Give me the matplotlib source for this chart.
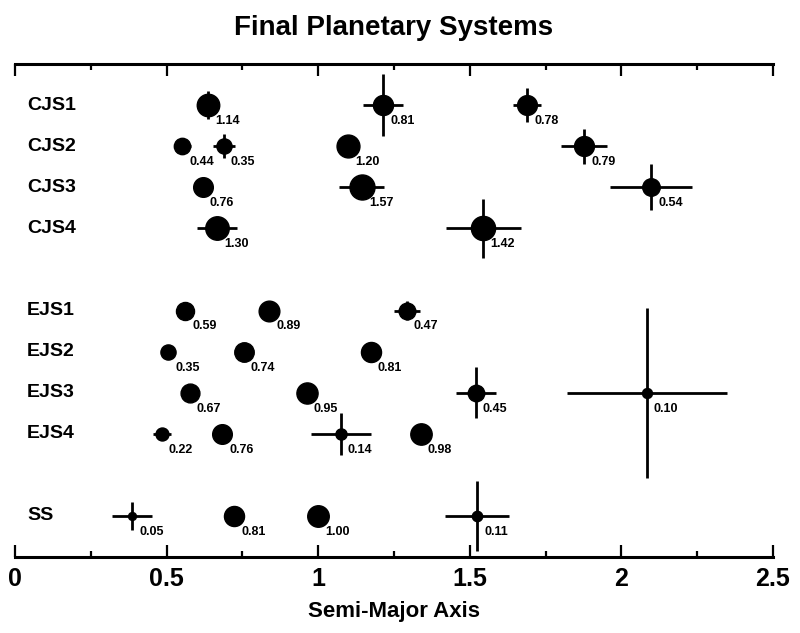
import matplotlib
matplotlib.use("Agg")
import matplotlib.pyplot as plt
from matplotlib.ticker import MultipleLocator, FuncFormatter

plt.rcParams['font.family'] = ['Liberation Sans', 'DejaVu Sans']
plt.rcParams['font.weight'] = 'bold'

# ---------------- data ----------------
systems = ['CJS1', 'CJS2', 'CJS3', 'CJS4', 'EJS1', 'EJS2', 'EJS3', 'EJS4', 'SS']

planet_system = ['CJS1', 'CJS1', 'CJS1',
                 'CJS2', 'CJS2', 'CJS2', 'CJS2',
                 'CJS3', 'CJS3', 'CJS3',
                 'CJS4', 'CJS4',
                 'EJS1', 'EJS1', 'EJS1',
                 'EJS2', 'EJS2', 'EJS2',
                 'EJS3', 'EJS3', 'EJS3', 'EJS3',
                 'EJS4', 'EJS4', 'EJS4', 'EJS4',
                 'SS', 'SS', 'SS', 'SS']
semi_major = [0.637, 1.214, 1.689,
              0.551, 0.689, 1.098, 1.877,
              0.620, 1.144, 2.098,
              0.666, 1.544,
              0.561, 0.838, 1.293,
              0.505, 0.755, 1.174,
              0.577, 0.963, 1.520, 2.084,
              0.485, 0.683, 1.075, 1.339,
              0.387, 0.723, 1.000, 1.524]
mass = [1.14, 0.81, 0.78,
        0.44, 0.35, 1.20, 0.79,
        0.76, 1.57, 0.54,
        1.30, 1.42,
        0.59, 0.89, 0.47,
        0.35, 0.74, 0.81,
        0.67, 0.95, 0.45, 0.10,
        0.22, 0.76, 0.14, 0.98,
        0.05, 0.81, 1.00, 0.11]
# horizontal spread (AU)
a_spread = [0.0, 0.066, 0.046,
            0.028, 0.035, 0.0, 0.076,
            0.0, 0.074, 0.134,
            0.066, 0.124,
            0.0, 0.0, 0.043,
            0.0, 0.0, 0.0,
            0.0, 0.0, 0.066, 0.265,
            0.031, 0.0, 0.099, 0.0,
            0.066, 0.0, 0.0, 0.106]
# vertical spread (row units)
v_spread = [0.35, 0.75, 0.41,
            0.0, 0.29, 0.0, 0.43,
            0.0, 0.0, 0.56,
            0.0, 0.72,
            0.0, 0.0, 0.22,
            0.0, 0.0, 0.0,
            0.0, 0.0, 0.62, 2.07,
            0.0, 0.0, 0.51, 0.0,
            0.35, 0.0, 0.0, 0.86]

# ---------------- layout ----------------
rows = {}
r = 0
prev = None
for s in systems:
    g = s.rstrip('0123456789')
    if prev is not None and g != prev:
        r += 1
    rows[s] = r
    r += 1
    prev = g

W, H = 800, 633
fig = plt.figure(figsize=(W / 100, H / 100), dpi=100)
ax = fig.add_axes([15 / W, 1 - 557 / H, (773 - 15) / W, (557 - 64) / H])
ax.set_xlim(0, 2.5)
ax.set_ylim(r, -1)

for side in ['left', 'right']:
    ax.spines[side].set_visible(False)
for side in ['top', 'bottom']:
    ax.spines[side].set_linewidth(2.2)

ax.set_yticks([])
ax.xaxis.set_major_locator(MultipleLocator(0.5))
ax.xaxis.set_minor_locator(MultipleLocator(0.25))
ax.xaxis.set_major_formatter(FuncFormatter(lambda v, p: '%g' % v))
ax.tick_params(axis='x', which='both', direction='in', top=True, bottom=True,
               width=1.6, labelsize=18, pad=7)
ax.tick_params(axis='x', which='major', length=8.5)
ax.tick_params(axis='x', which='minor', length=4.5)

for s in systems:
    ax.text(0.04, rows[s], s, ha='left', va='center', fontsize=14,
            fontweight='bold')

for s, a, m, da, dv in zip(planet_system, semi_major, mass, a_spread, v_spread):
    y = rows[s]
    ms = 15.5 * m ** (1 / 3)
    ax.errorbar([a], [y], xerr=[da] if da > 0 else None,
                yerr=[dv] if dv > 0 else None,
                fmt='o', color='black', ms=ms, elinewidth=2.0, capsize=0,
                zorder=3)
    ax.annotate('%.2f' % m, (a, y), xytext=(5, -11.5), textcoords='offset points',
                ha='left', va='center', fontsize=9, fontweight='bold')

fig.text(394 / W, 1 - 28 / H, 'Final Planetary Systems', ha='center',
         va='center', fontsize=20, fontweight='bold')
fig.text(394 / W, 1 - 612 / H, 'Semi-Major Axis', ha='center', va='center',
         fontsize=16, fontweight='bold')

fig.savefig('out.png', dpi=100)
